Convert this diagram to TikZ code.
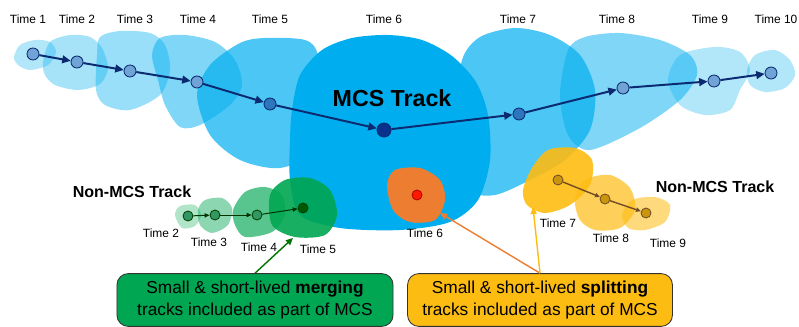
\documentclass[tikz,border=0pt]{standalone}
\usepackage{fontspec}
\setmainfont{Liberation Sans}
\usetikzlibrary{arrows.meta,positioning}
\definecolor{mcsblue}{RGB}{0,174,239}
\definecolor{trackblue}{RGB}{12,42,112}
\definecolor{nodeblue}{RGB}{112,164,214}
\definecolor{midblue}{RGB}{44,118,190}
\definecolor{darkblue}{RGB}{10,50,140}
\definecolor{mergegreen}{RGB}{0,166,81}
\definecolor{splitorange}{RGB}{237,125,49}
\definecolor{splityellow}{RGB}{253,188,18}

\begin{document}
\begin{tikzpicture}[x=0.025cm,y=-0.025cm,
    trk/.style={draw=trackblue,line width=1.4pt,-{Triangle[length=6pt,width=5.5pt]}},
    tnode/.style={circle,draw=trackblue,fill=nodeblue,minimum size=0.3cm,inner sep=0pt,line width=0.6pt},
    tlabel/.style={font=\fontsize{8.5}{10}\selectfont},
    smalltrk/.style={line width=0.7pt,-{Triangle[length=3.5pt,width=3pt]}},
    infobox/.style={rounded corners=8pt,draw=black!80,line width=0.6pt,align=center,
      minimum height=1.32cm,font=\fontsize{12.3}{15}\selectfont}]
  \useasboundingbox (0,0) rectangle (799,327);
  % Blobs - MCS track
  \fill[mcsblue,fill opacity=0.3] plot[smooth cycle] coordinates {(14,57) (20,45) (35,40) (50,42) (56,52) (48,65) (30,70) (18,65)};
  \fill[mcsblue,fill opacity=0.35] plot[smooth cycle] coordinates {(43,62) (50,42) (70,35) (90,37) (102,48) (108,68) (100,84) (78,90) (55,85) (45,75)};
  \fill[mcsblue,fill opacity=0.4] plot[smooth cycle] coordinates {(97,55) (100,37) (120,31) (150,33) (165,45) (170,70) (160,95) (130,110) (105,105) (96,90)};
  \fill[mcsblue,fill opacity=0.5] plot[smooth cycle] coordinates {(152,55) (160,38) (185,35) (215,42) (235,60) (242,85) (230,105) (200,125) (180,127) (165,105) (158,80)};
  \fill[mcsblue,fill opacity=0.7] plot[smooth cycle] coordinates {(197,95) (210,65) (240,43) (265,38) (305,40) (318,55) (320,100) (315,150) (280,168) (240,160) (210,135)};
  \fill[mcsblue,fill opacity=0.7] plot[smooth cycle] coordinates {(462,60) (480,37) (515,28) (550,35) (580,55) (595,90) (590,130) (565,160) (530,180) (495,195) (470,190) (462,150) (458,110)};
  \fill[mcsblue,fill opacity=0.5] plot[smooth cycle] coordinates {(560,95) (568,50) (585,37) (620,33) (660,40) (690,55) (697,75) (680,100) (640,128) (590,150) (568,135)};
  \fill[mcsblue,fill opacity=0.3] plot[smooth cycle] coordinates {(668,80) (680,55) (715,47) (740,52) (750,70) (740,90) (730,110) (705,115) (680,105)};
  \fill[mcsblue,fill opacity=0.3] plot[smooth cycle] coordinates {(747,70) (755,55) (775,50) (790,60) (795,75) (785,88) (765,92) (750,85)};
  \fill[mcsblue] plot[smooth cycle] coordinates {(292,110) (300,75) (322,50) (352,38) (388,35) (422,40) (452,56) (476,82) (488,115) (490,160) (478,200) (450,222) (400,230) (340,228) (300,215) (290,180) (290,140)};
  % Blobs - merging and splitting
  \fill[mergegreen,fill opacity=0.3] plot[smooth cycle] coordinates {(175,215) (180,206) (195,205) (201,215) (195,226) (182,228)};
  \fill[mergegreen,fill opacity=0.45] plot[smooth cycle] coordinates {(198,210) (205,200) (222,198) (232,208) (228,225) (212,233) (200,225)};
  \fill[mergegreen,fill opacity=0.65] plot[smooth cycle] coordinates {(233,210) (245,192) (265,187) (282,195) (285,215) (272,232) (245,237) (235,225)};
  \fill[mergegreen,fill opacity=0.9] plot[smooth cycle] coordinates {(270,195) (285,180) (310,178) (330,190) (337,215) (325,235) (295,237) (272,225)};
  \fill[splitorange] plot[smooth cycle] coordinates {(387,185) (395,170) (420,168) (440,180) (445,200) (435,220) (410,222) (393,210)};
  \fill[splityellow,fill opacity=0.9] plot[smooth cycle] coordinates {(523,190) (532,168) (548,150) (575,148) (592,160) (590,185) (570,205) (545,213) (527,205)};
  \fill[splityellow,fill opacity=0.7] plot[smooth cycle] coordinates {(575,200) (585,180) (610,175) (630,188) (635,210) (620,228) (595,230) (580,220)};
  \fill[splityellow,fill opacity=0.55] plot[smooth cycle] coordinates {(622,215) (632,200) (655,197) (670,205) (665,222) (645,230) (628,228)};
  % MCS track nodes
  \node[tnode] (t1) at (33,54) {};
  \node[tnode] (t2) at (77,62) {};
  \node[tnode] (t3) at (130,71) {};
  \node[tnode] (t4) at (197,82) {};
  \node[tnode,fill=midblue] (t5) at (270,104) {};
  \node[tnode,fill=darkblue,minimum size=0.35cm] (t6) at (384,130) {};
  \node[tnode,fill=midblue] (t7) at (519,114) {};
  \node[tnode] (t8) at (623,88) {};
  \node[tnode] (t9) at (714,81) {};
  \node[tnode] (t10) at (771,73) {};
  \draw[trk] (t1) -- (t2);
  \draw[trk] (t2) -- (t3);
  \draw[trk] (t3) -- (t4);
  \draw[trk] (t4) -- (t5);
  \draw[trk] (t5) -- (t6);
  \draw[trk] (t6) -- (t7);
  \draw[trk] (t7) -- (t8);
  \draw[trk] (t8) -- (t9);
  \draw[trk] (t9) -- (t10);
  % Time labels
  \node[tlabel] (l1) at (28,19) {Time 1};
  \node[tlabel] (l2) at (77,19) {Time 2};
  \node[tlabel] (l3) at (135,19) {Time 3};
  \node[tlabel] (l4) at (198,19) {Time 4};
  \node[tlabel] (l5) at (270,19) {Time 5};
  \node[tlabel] (l6) at (384,19) {Time 6};
  \node[tlabel] (l7) at (518,19) {Time 7};
  \node[tlabel] (l8) at (617,19) {Time 8};
  \node[tlabel] (l9) at (710,19) {Time 9};
  \node[tlabel] (l10) at (776,19) {Time 10};
  \node[font=\fontsize{16.5}{18}\selectfont\bfseries] (mcs) at (392,98) {MCS Track};
  % Merging track
  \node[font=\fontsize{11.4}{13}\selectfont\bfseries] (nmcsl) at (132,192) {Non-MCS Track};
  \node[tnode,draw=green!25!black,fill=mergegreen!60!gray,minimum size=0.25cm] (m1) at (188,216) {};
  \node[tnode,draw=green!25!black,fill=mergegreen!60!gray,minimum size=0.25cm] (m2) at (215,215) {};
  \node[tnode,draw=green!25!black,fill=mergegreen!60!gray,minimum size=0.25cm] (m3) at (257,215) {};
  \node[tnode,draw=green!25!black,fill=green!35!black,minimum size=0.25cm] (m4) at (303,208) {};
  \draw[smalltrk,green!20!black] (m1) -- (m2);
  \draw[smalltrk,green!20!black] (m2) -- (m3);
  \draw[smalltrk,green!20!black] (m3) -- (m4);
  \node[tlabel] (lm1) at (161,233) {Time 2};
  \node[tlabel] (lm2) at (209,242) {Time 3};
  \node[tlabel] (lm3) at (259,247) {Time 4};
  \node[tlabel] (lm4) at (318,249) {Time 5};
  % Splitting tracks
  \node[circle,draw=red!70!black,fill=red!80!orange,minimum size=0.25cm,inner sep=0pt,line width=0.6pt] (o1) at (417,195) {};
  \node[tlabel] (lo1) at (425,233) {Time 6};
  \node[font=\fontsize{11.4}{13}\selectfont\bfseries] (nmcsr) at (715,187) {Non-MCS Track};
  \node[tnode,draw=brown!60!black,fill=splityellow!80!black,minimum size=0.25cm] (s1) at (558,180) {};
  \node[tnode,draw=brown!60!black,fill=splityellow!80!black,minimum size=0.25cm] (s2) at (605,199) {};
  \node[tnode,draw=brown!60!black,fill=splityellow!80!black,minimum size=0.25cm] (s3) at (646,213) {};
  \draw[smalltrk,brown!60!black,line width=1pt] (s1) -- (s2);
  \draw[smalltrk,brown!60!black,line width=1pt] (s2) -- (s3);
  \node[tlabel] (ls1) at (558,223) {Time 7};
  \node[tlabel] (ls2) at (611,238) {Time 8};
  \node[tlabel] (ls3) at (668,243) {Time 9};
  % Boxes
  \node[infobox,fill=mergegreen,minimum width=6.9cm] (mergebox) at (255,300)
    {Small \& short-lived \textbf{merging}\\tracks included as part of MCS};
  \node[infobox,fill=splityellow,minimum width=6.62cm] (splitbox) at (540,300)
    {Small \& short-lived \textbf{splitting}\\tracks included as part of MCS};
  \coordinate (mtip) at (293,238);
  \coordinate (otip) at (440,213);
  \coordinate (ytip) at (533,207);
  \draw[green!45!black,line width=1pt,-{Triangle[length=5pt,width=4.5pt]}] (mergebox.north) -- (mtip);
  \draw[splitorange,line width=1pt,-{Triangle[length=5pt,width=4.5pt]}] (splitbox.north) -- (otip);
  \draw[splityellow,line width=1pt,-{Triangle[length=5pt,width=4.5pt]}] (splitbox.north) -- (ytip);
\end{tikzpicture}
\end{document}
